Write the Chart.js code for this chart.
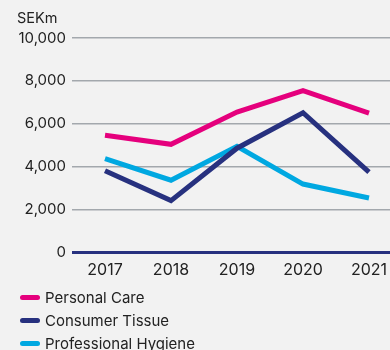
<!DOCTYPE html>
<html>
<head>
<meta charset="utf-8">
<script src="https://cdn.jsdelivr.net/npm/chart.js@4/dist/chart.umd.min.js"></script>
<style>
  html, body { margin: 0; padding: 0; background: #f2f2f2; }
  body { width: 390px; height: 350px; overflow: hidden; position: relative; font-family: Inter, sans-serif; color: #222; }
  #unit { position: absolute; left: 17px; top: 8px; font-size: 14.5px; line-height: 20px; }
  #wrap { position: absolute; left: 0; top: 0; width: 402px; height: 288px; }
  #legend { position: absolute; left: 20px; top: 286px; font-size: 15px; }
  .item { height: 23px; line-height: 23px; display: flex; align-items: center; }
  .swatch { width: 20px; height: 5px; border-radius: 3px; margin-right: 5px; }
</style>
</head>
<body>
<div id="wrap"><canvas id="chart"></canvas></div>
<div id="unit">SEKm</div>
<div id="legend"></div>
<script>
// Data
const years = ['2017', '2018', '2019', '2020', '2021'];
const personalCare = [5470, 5050, 6550, 7550, 6500];
const consumerTissue = [3820, 2430, 4870, 6520, 3760];
const professionalHygiene = [4390, 3380, 4960, 3200, 2550];
const yTicks = [0, 2000, 4000, 6000, 8000, 10000];

const series = [
  { label: 'Personal Care', data: personalCare, color: '#e5007d' },
  { label: 'Consumer Tissue', data: consumerTissue, color: '#27317f' },
  { label: 'Professional Hygiene', data: professionalHygiene, color: '#00a8e1' }
];

new Chart(document.getElementById('chart'), {
  type: 'line',
  data: {
    labels: years,
    datasets: series.map(s => ({
      label: s.label,
      data: s.data,
      borderColor: s.color,
      backgroundColor: s.color,
      borderWidth: 5,
      pointRadius: 0,
      tension: 0
    }))
  },
  options: {
    responsive: true,
    maintainAspectRatio: false,
    animation: false,
    layout: { padding: { left: 0, right: 0, top: 38, bottom: 0 } },
    plugins: {
      legend: { display: false },
      tooltip: { enabled: false }
    },
    scales: {
      x: {
        offset: true,
        grid: { display: false, drawTicks: false },
        border: { display: false },
        ticks: { color: '#222', font: { family: 'Inter', size: 16 }, padding: 8, maxRotation: 0 }
      },
      y: {
        min: 0,
        max: 10000,
        afterBuildTicks: scale => { scale.ticks = yTicks.map(v => ({ value: v })); },
        afterFit: scale => { scale.width = 72; },
        border: { display: false },
        grid: {
          drawTicks: false,
          color: ctx => ctx.tick && ctx.tick.value === 0 ? '#27317f' : '#a3a8ad',
          lineWidth: ctx => ctx.tick && ctx.tick.value === 0 ? 3 : 1.5
        },
        ticks: {
          color: '#222',
          font: { family: 'Inter', size: 15 },
          padding: 6,
          callback: v => v.toLocaleString('en-US')
        }
      }
    }
  }
});

const legend = document.getElementById('legend');
series.forEach(s => {
  const row = document.createElement('div');
  row.className = 'item';
  row.innerHTML = '<span class="swatch" style="background:' + s.color + '"></span>' + s.label;
  legend.appendChild(row);
});
</script>
</body>
</html>
